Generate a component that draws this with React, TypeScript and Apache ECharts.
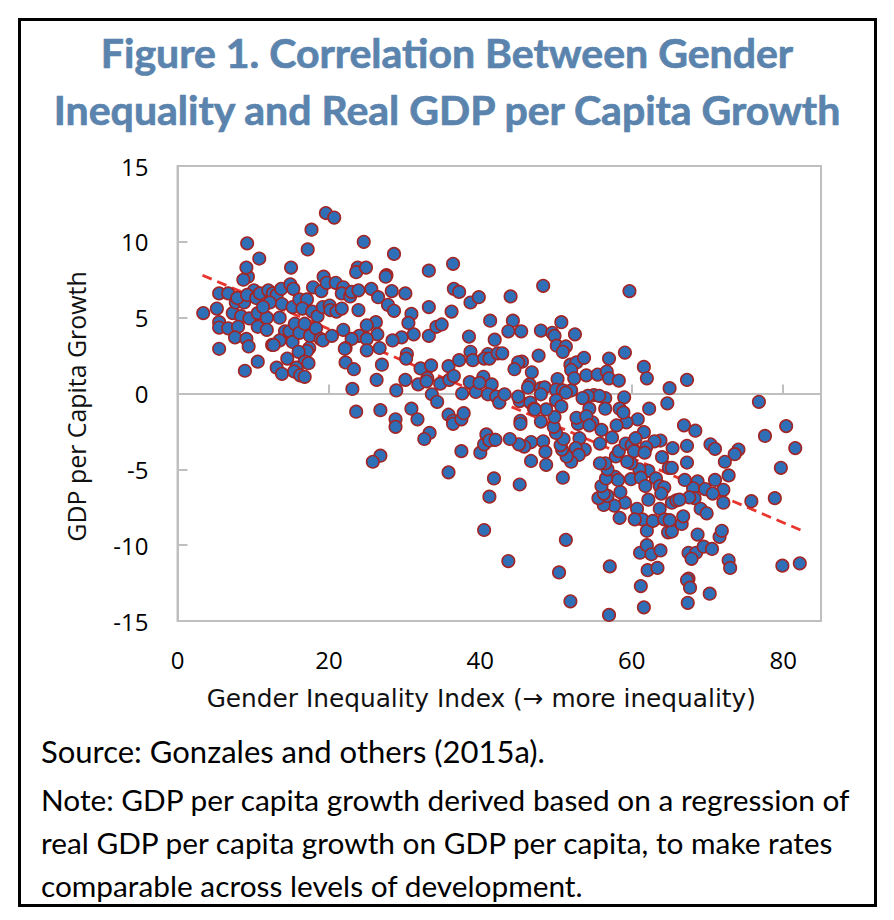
import React, { useEffect, useRef } from "react";
import * as echarts from "echarts";

const titleLines = ["Figure 1. Correlation Between Gender", "Inequality and Real GDP per Capita Growth"];
const sourceText = "Source: Gonzales and others (2015a).";
const noteLines = [
  "Note: GDP per capita growth derived based on a regression of",
  "real GDP per capita growth on GDP per capita, to make rates",
  "comparable across levels of development.",
];
const xAxisTitle = "Gender Inequality Index (→ more inequality)";
const yAxisTitle = "GDP per Capita Growth";

const trendLine: [number, number][] = [[3.3, 7.8], [82.3, -9.0]];

const countryPoints: [number, number][] = [
  [3.4,5.3],[5.2,5.6],[5.5,6.6],[6.7,6.6],[5.5,4.7],[5.5,4.35],[6.7,4.3],[5.5,2.95],[7.3,5.3],[7.7,6.0],
  [8.8,6.0],[7.9,6.3],[9.3,7.7],[8.7,7.5],[9.1,8.3],[9.2,9.9],[10.8,8.9],[8.4,5.1],[8.0,4.4],[7.6,3.7],
  [9.1,3.6],[9.4,3.1],[8.9,1.5],[10.6,2.1],[9.5,4.95],[10.6,5.3],[10.6,4.4],[11.8,5.0],[11.8,4.2],[10.1,6.8],
  [9.2,6.5],[10.4,6.3],[10.9,6.6],[12.0,6.8],[12.6,6.6],[13.1,6.5],[13.7,6.9],[12.2,6.0],[11.3,5.7],[13.8,5.9],
  [13.5,5.0],[15.2,5.7],[14.9,7.2],[15.3,6.9],[15.0,8.3],[14.2,4.1],[14.8,4.1],[13.5,3.5],[15.2,3.4],[12.5,3.2],
  [12.7,3.2],[15.5,4.6],[16.1,4.0],[16.8,4.6],[17.5,3.8],[18.3,4.3],[18.9,3.6],[19.2,3.5],[20.4,3.8],[21.9,4.2],
  [17.4,3.0],[17.1,2.8],[16.0,2.75],[14.5,2.3],[16.8,2.1],[17.3,2.0],[13.1,1.7],[13.8,1.3],[15.7,1.7],[15.4,1.45],
  [16.2,1.2],[16.8,1.1],[16.1,6.2],[17.1,6.2],[16.5,5.6],[17.8,5.4],[18.5,5.1],[19.2,5.7],[20.1,5.8],[20.2,5.5],
  [21.0,5.4],[21.7,5.6],[17.9,7.0],[19.0,6.75],[19.3,7.7],[19.7,7.3],[20.9,7.3],[21.9,7.0],[21.7,6.6],[22.8,6.4],
  [23.0,6.7],[23.9,6.8],[25.6,6.9],[26.5,6.35],[23.9,5.5],[27.8,5.85],[28.6,5.45],[28.3,6.75],[30.1,6.6],[27.6,7.8],
  [27.5,7.7],[23.8,8.3],[23.6,8.0],[24.9,8.3],[24.6,10.0],[28.6,9.2],[17.2,9.5],[17.7,10.8],[19.6,11.9],[20.7,11.6],
  [33.2,8.1],[36.4,8.55],[33.2,5.7],[36.2,5.4],[36.5,6.9],[37.2,6.7],[38.7,6.0],[39.8,6.35],[41.3,4.8],[30.9,5.25],
  [30.5,4.65],[31.2,3.9],[29.6,3.7],[28.4,3.5],[26.2,4.7],[25.0,4.5],[26.4,3.9],[24.0,3.8],[25.0,3.6],[23.0,3.6],
  [26.7,3.0],[25.0,2.85],[22.2,3.0],[22.1,2.95],[22.2,2.05],[23.3,1.6],[27.0,1.9],[26.3,0.9],[23.1,0.3],[28.9,0.2],
  [30.1,0.9],[30.3,2.6],[30.2,2.3],[32.1,1.65],[33.5,1.85],[35.8,1.8],[37.2,2.2],[38.7,2.75],[39.0,2.2],[41.0,2.6],
  [40.5,2.3],[41.2,2.3],[41.9,3.55],[38.5,3.75],[42.3,2.65],[33.2,3.8],[34.2,4.4],[34.9,4.55],[31.8,0.6],[33.0,1.0],
  [32.9,0.8],[34.7,0.65],[35.9,0.9],[36.5,1.15],[33.6,-0.05],[34.3,-0.55],[37.6,0.0],[38.6,0.75],[39.4,0.1],[40.4,1.1],
  [39.9,0.7],[41.5,0.6],[41.0,-0.05],[42.1,-0.2],[42.5,-0.6],[23.6,-1.2],[26.8,-1.1],[28.8,-1.7],[28.8,-2.2],[30.9,-1.0],
  [31.7,-1.7],[33.3,-2.6],[32.6,-3.0],[26.8,-4.1],[25.8,-4.5],[35.8,-1.4],[36.4,-1.8],[36.4,-2.0],[37.5,-1.7],[37.8,-1.3],
  [37.5,-3.8],[35.8,-5.2],[40.0,-3.9],[40.5,-3.35],[40.8,-2.7],[41.9,-3.05],[41.2,-3.1],[41.8,-5.6],[41.2,-6.8],[40.5,-9.0],
  [44.0,6.4],[48.3,7.1],[59.7,6.75],[44.3,4.8],[43.7,4.1],[45.4,4.1],[48.0,4.15],[49.5,4.0],[49.8,3.8],[50.7,4.7],
  [52.5,3.9],[50.1,3.15],[51.3,3.1],[50.9,2.75],[42.9,2.65],[47.7,2.5],[45.5,2.1],[45.0,2.05],[44.5,1.6],[46.8,1.4],
  [46.5,0.6],[46.3,0.4],[48.0,0.35],[48.5,0.4],[50.2,0.95],[50.0,0.25],[50.9,0.2],[52.0,0.2],[51.3,0.05],[51.9,1.9],
  [52.7,2.05],[53.7,2.35],[52.0,1.55],[52.4,1.0],[54.0,1.2],[55.5,1.25],[56.7,1.45],[57.0,2.3],[59.1,2.7],[57.0,1.0],
  [58.3,0.85],[61.6,1.75],[62.0,1.0],[65.0,0.35],[67.3,0.9],[59.0,-0.25],[56.5,-0.3],[55.0,-0.1],[55.7,-0.15],[54.2,-0.15],
  [53.5,-0.3],[64.7,-0.65],[62.3,-1.0],[76.8,-0.55],[48.0,-0.05],[45.2,-0.5],[45.0,-0.2],[43.2,-0.05],[46.6,-0.6],[50.0,-0.45],
  [50.7,-0.85],[47.1,-1.0],[54.4,-1.0],[56.5,-1.0],[58.4,-1.0],[66.9,-2.1],[68.4,-2.45],[67.3,-3.45],[65.4,-3.6],[70.4,-3.35],
  [71.0,-3.65],[74.1,-3.7],[73.6,-4.0],[72.3,-4.5],[67.3,-4.55],[64.0,-4.2],[63.8,-3.1],[63.0,-3.15],[61.9,-3.55],[61.6,-2.55],
  [60.8,-1.7],[59.3,-1.9],[58.0,-2.1],[58.9,-1.25],[54.8,-1.9],[52.9,-2.0],[52.7,-1.6],[54.0,-1.5],[56.0,-2.4],[57.4,-2.9],
  [55.8,-3.3],[54.4,-2.1],[53.1,-2.95],[53.8,-3.7],[52.6,-3.6],[53.0,-4.05],[52.0,-4.5],[51.4,-4.15],[50.8,-3.7],[50.6,-3.4],
  [51.0,-3.0],[50.0,-2.6],[49.7,-2.2],[49.8,-1.55],[48.7,-1.05],[47.2,-1.05],[48.0,-1.85],[45.3,-1.8],[45.3,-2.0],[48.3,-3.15],
  [48.6,-3.85],[46.7,-3.2],[45.8,-3.5],[45.1,-3.35],[43.9,-3.0],[42.0,-3.05],[46.7,-4.45],[48.7,-4.7],[45.2,-6.0],[50.9,-5.55],
  [43.7,-11.05],[51.3,-9.65],[50.4,-11.8],[57.1,-11.4],[51.9,-13.7],[57.0,-14.6],[61.6,-14.1],[61.2,-12.7],[62.1,-11.65],[63.4,-11.5],
  [61.1,-10.5],[62.0,-10.0],[62.6,-10.6],[63.8,-10.35],[62.0,-9.05],[64.8,-9.15],[65.3,-9.1],[66.6,-8.6],[66.8,-8.1],[68.7,-9.3],
  [67.5,-10.5],[68.5,-10.5],[67.9,-10.9],[69.5,-10.1],[70.6,-10.25],[71.6,-9.45],[71.9,-9.05],[72.8,-11.0],[73.0,-11.5],[67.5,-12.2],
  [67.3,-12.3],[67.7,-12.8],[70.3,-13.2],[67.4,-13.8],[79.9,-11.35],[82.2,-11.2],[78.9,-6.9],[75.8,-7.1],[79.7,-4.9],[81.6,-3.6],
  [77.6,-2.8],[80.4,-2.15],[72.1,-7.2],[72.1,-6.35],[72.8,-5.4],[71.0,-5.7],[68.7,-5.8],[68.1,-6.25],[69.7,-6.3],[70.7,-6.6],
  [68.3,-6.9],[67.6,-6.85],[69.1,-7.6],[69.9,-7.9],[67.0,-5.7],[64.9,-4.9],[65.3,-4.9],[62.2,-5.1],[61.0,-5.0],[59.9,-4.6],
  [59.4,-4.5],[57.9,-4.15],[58.3,-3.8],[59.2,-3.3],[60.0,-3.4],[60.5,-2.95],[60.3,-3.8],[61.7,-3.9],[59.9,-5.65],[61.2,-5.55],
  [61.8,-6.1],[63.2,-5.6],[63.7,-6.1],[64.3,-6.2],[63.9,-6.6],[62.2,-7.0],[65.3,-7.2],[65.9,-7.05],[66.3,-7.0],[63.7,-7.6],
  [60.7,-7.6],[61.4,-8.3],[60.4,-8.3],[62.8,-8.4],[64.3,-8.3],[65.0,-8.35],[58.4,-8.2],[59.1,-7.2],[57.7,-7.4],[56.3,-7.35],
  [55.6,-6.9],[56.8,-6.75],[56.3,-6.6],[56.0,-6.1],[58.5,-6.5],[57.8,-5.5],[58.2,-5.7],[56.6,-5.6],[56.8,-5.0],[56.5,-4.6],
  [55.8,-4.6],
];

const bodyFont = "Lato";
const labelFont = "Open Sans";
const frame = "#bfbfbf";

export default function App() {
  const ref = useRef<HTMLDivElement>(null);
  useEffect(() => {
    const chart = echarts.init(ref.current!, undefined, { renderer: "svg" });
    const axisCommon = {
      type: "value" as const,
      splitLine: { show: false },
    };
    chart.setOption({
      animation: false,
      backgroundColor: "#ffffff",
      grid: {
        left: 177.5, top: 166, width: 643.5, height: 455,
        show: true, borderColor: frame, borderWidth: 2, backgroundColor: "transparent",
      },
      xAxis: [
        {
          ...axisCommon, min: 0, max: 85, interval: 20, position: "bottom",
          axisLine: { show: false, onZero: false },
          axisTick: { show: false },
          axisLabel: {
            margin: 26, color: "#000", fontFamily: labelFont, fontSize: 24,
            formatter: (v: number) => (v > 80 ? "" : String(v)),
          },
          name: xAxisTitle, nameLocation: "middle", nameGap: 65,
          nameTextStyle: { color: "#111", fontFamily: "DejaVu Sans", fontSize: 24.8, padding: [0, 36, 0, 0] },
        },
        {
          ...axisCommon, min: 0, max: 85, interval: 20, position: "bottom",
          axisLine: { show: true, onZero: true, lineStyle: { color: frame, width: 2 } },
          axisTick: { show: true, inside: true, length: 9, lineStyle: { color: frame, width: 2 } },
          axisLabel: { show: false },
        },
      ],
      yAxis: {
        ...axisCommon, min: -15, max: 15, interval: 5,
        axisLine: { show: true, onZero: false, lineStyle: { color: frame, width: 2 } },
        axisTick: { show: true, inside: true, length: 10, lineStyle: { color: frame, width: 2 } },
        axisLabel: { margin: 29, color: "#000", fontFamily: labelFont, fontSize: 24 },
        name: yAxisTitle, nameLocation: "middle", nameGap: 89,
        nameTextStyle: { color: "#111", fontFamily: labelFont, fontSize: 24.9, padding: [0, 26, 0, 0] },
      },
      series: [
        {
          type: "line", data: trendLine, xAxisIndex: 0, yAxisIndex: 0, symbol: "none", z: 1,
          lineStyle: { color: "#e8352e", width: 2.8, type: [10, 6] },
        },
        {
          type: "scatter", data: countryPoints, xAxisIndex: 0, yAxisIndex: 0, symbol: "circle", symbolSize: 12.5, z: 2,
          itemStyle: { color: "#2e6fb8", borderColor: "#a32525", borderWidth: 1.6, opacity: 1 },
        },
      ],
      graphic: [
        { type: "rect", shape: { x: 19.5, y: 19.5, width: 856, height: 886 }, style: { fill: "none", stroke: "#000", lineWidth: 3 }, silent: true },
        ...titleLines.map((t, i) => ({
          type: "text", x: 447, y: 52 + i * 57,
          style: { text: t, fontFamily: bodyFont, fontWeight: "bold", fontSize: 41, fill: "#5a84ad", stroke: "#5a84ad", lineWidth: 0.7, textAlign: "center", textVerticalAlign: "middle" },
        })),
        {
          type: "text", x: 41, y: 751,
          style: { text: sourceText, fontFamily: bodyFont, fontSize: 31, fill: "#000", textVerticalAlign: "middle" },
        },
        ...noteLines.map((t, i) => ({
          type: "text", x: 41, y: 799 + i * 43,
          style: { text: t, fontFamily: bodyFont, fontSize: 29.8, fill: "#000", textVerticalAlign: "middle" },
        })),
      ],
    });
    return () => chart.dispose();
  }, []);
  return <div ref={ref} style={{ position: "absolute", left: 0, top: 0, width: 894, height: 920 }} />;
}
